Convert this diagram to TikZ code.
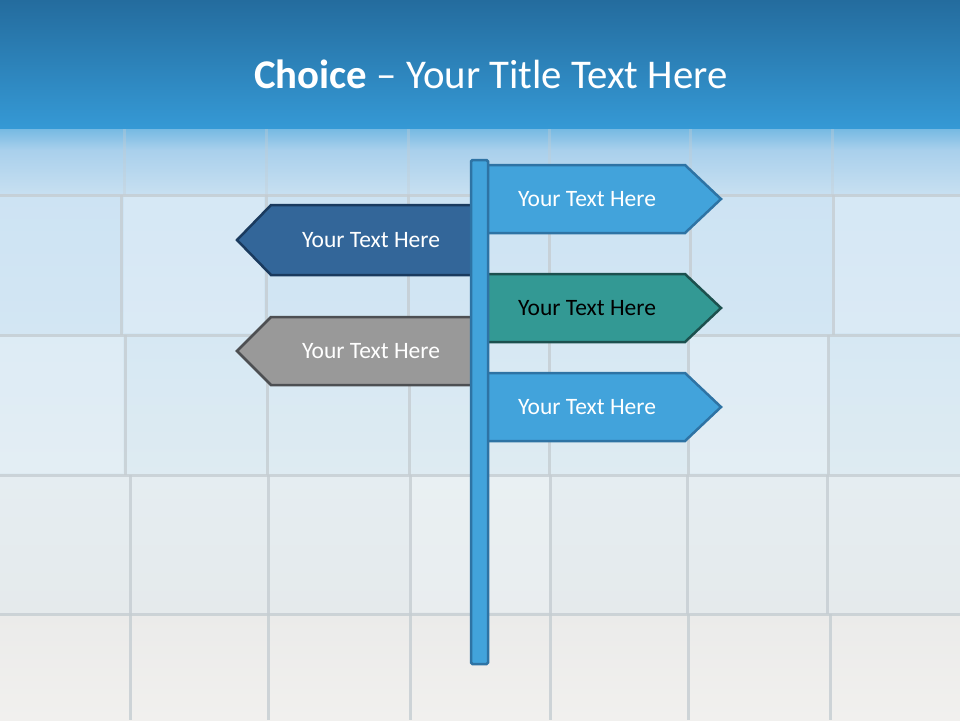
\documentclass[tikz,border=0pt]{standalone}
\usepackage{fontspec}
\setmainfont{Carlito}
\definecolor{hdrTop}{HTML}{246C9E}
\definecolor{hdrBot}{HTML}{3599D5}
\definecolor{skyBlue}{HTML}{42A3DB}
\definecolor{skyEdge}{HTML}{2E73A4}
\definecolor{navyFill}{HTML}{336699}
\definecolor{navyEdge}{HTML}{1A3A5E}
\definecolor{tealFill}{HTML}{339994}
\definecolor{tealEdge}{HTML}{1C504E}
\definecolor{greyFill}{HTML}{999999}
\definecolor{greyEdge}{HTML}{4D4F52}
\definecolor{gridLine}{HTML}{C5CDD2}
\begin{document}
\begin{tikzpicture}[x=1pt,y=-1pt,
  signtext/.style={font=\fontsize{23.5}{28}\selectfont, inner sep=0pt},
  signR/.style={fill=skyBlue, draw=skyEdge, line width=2.5pt, line join=miter},
  signN/.style={fill=navyFill, draw=navyEdge, line width=2.5pt, line join=miter},
  signT/.style={fill=tealFill, draw=tealEdge, line width=2.5pt, line join=miter},
  signG/.style={fill=greyFill, draw=greyEdge, line width=2.5pt, line join=miter},
  gridv/.style={draw=gridLine, line width=3pt, opacity=0.8},
  tilehi/.style={fill=white, opacity=0.18},
]
\useasboundingbox (0,0) rectangle (960,720);
% background bands
\shade[top color=hdrBot!70!white, bottom color={rgb,255:red,169;green,208;blue,236}] (0,127) rectangle (960,150);
\shade[top color={rgb,255:red,169;green,208;blue,236}, bottom color={rgb,255:red,200;green,224;blue,241}] (0,150) rectangle (960,195);
\shade[top color={rgb,255:red,205;green,227;blue,243}, bottom color={rgb,255:red,211;green,230;blue,243}] (0,195) rectangle (960,335);
\shade[top color={rgb,255:red,214;green,232;blue,243}, bottom color={rgb,255:red,222;green,235;blue,242}] (0,335) rectangle (960,475);
\shade[top color={rgb,255:red,229;green,237;blue,241}, bottom color={rgb,255:red,229;green,234;blue,236}] (0,475) rectangle (960,614);
\shade[top color={rgb,255:red,235;green,235;blue,234}, bottom color={rgb,255:red,241;green,240;blue,238}] (0,614) rectangle (960,720);
% soft highlights on some cubes
\fill[tilehi] (124,197) rectangle (264,333);
\fill[tilehi] (690,337) rectangle (828,473);
\fill[tilehi] (0,337) rectangle (123,473);
\fill[tilehi] (409,477) rectangle (549,612);
\fill[tilehi] (832,197) rectangle (960,333);
% grid lines
\foreach \x in {124,266,408,549,690,832} \draw[gridv, opacity=0.35] (\x,128) -- (\x,195);
\foreach \x in {121,266,408,549,690,833} \draw[gridv] (\x,195) -- (\x,335);
\foreach \x in {125,267,409,549,688,828} \draw[gridv] (\x,335) -- (\x,475);
\foreach \x in {130,268,410,550,687,827} \draw[gridv] (\x,475) -- (\x,614);
\foreach \x in {130,268,410,550,688,830} \draw[gridv] (\x,614) -- (\x,720);
\foreach \y in {195,335,475,614} \draw[gridv] (0,\y) -- (960,\y);
% header
\shade[top color=hdrTop, bottom color=hdrBot] (0,0) rectangle (960,128);
\node[text=white, font=\fontsize{40.8}{48}\selectfont, inner sep=0pt] (title) at (491,74)
  {\textbf{Choice} -- Your Title Text Here};
% signs
\draw[signR] (480,165) -- (685,165) -- (721,199) -- (685,233) -- (480,233) -- cycle;
\draw[signN] (478,205) -- (271,205) -- (237,240) -- (271,275) -- (478,275) -- cycle;
\draw[signT] (480,274) -- (685,274) -- (721,308) -- (685,342) -- (480,342) -- cycle;
\draw[signG] (478,317) -- (271,317) -- (237,351) -- (271,385) -- (478,385) -- cycle;
\draw[signR] (480,373) -- (685,373) -- (721,407) -- (685,441) -- (480,441) -- cycle;
% pole
\draw[fill=skyBlue, draw=skyEdge, line width=2.5pt, rounded corners=1.5pt] (471,160) rectangle (488,664);
% texts
\node[signtext, text=white] (s1) at (587,199) {Your Text Here};
\node[signtext, text=white] (s2) at (371,240) {Your Text Here};
\node[signtext, text=black] (s3) at (587,308) {Your Text Here};
\node[signtext, text=white] (s4) at (371,351) {Your Text Here};
\node[signtext, text=white] (s5) at (587,407) {Your Text Here};
\end{tikzpicture}
\end{document}
